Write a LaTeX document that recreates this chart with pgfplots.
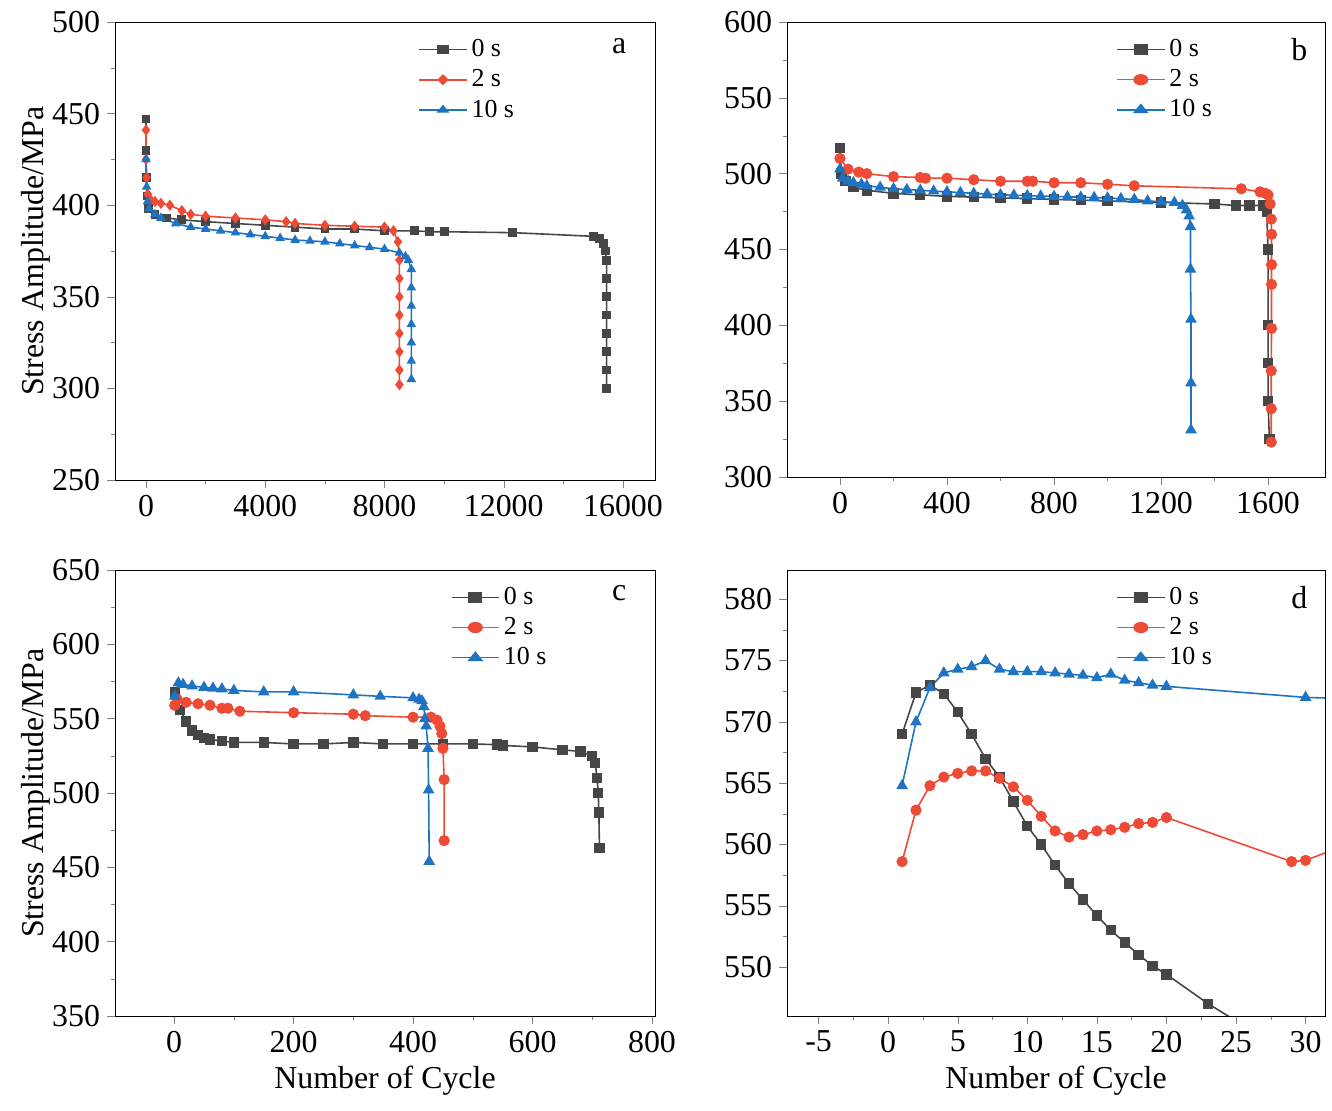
\documentclass[border=0pt]{standalone}
\usepackage{pgfplots}
\pgfplotsset{compat=1.18}
\usepackage{fontspec}
\setmainfont{Liberation Serif}
\definecolor{cg}{RGB}{70,70,70}
\definecolor{cr}{RGB}{238,75,55}
\definecolor{cb}{RGB}{30,115,195}
\pgfplotsset{
 every axis/.style={scale only axis, font=\fontsize{16}{18}\selectfont,
  /pgf/number format/assume math mode=true, /pgf/number format/set thousands separator={},
  tick align=outside, xtick pos=left, ytick pos=left, minor tick num=1,
  major tick length=4pt, minor tick length=2pt,
  legend style={draw=none, fill=none, font=\fontsize{13}{15}\selectfont, row sep=1pt},
  legend cell align=left, legend image post style={xscale=1.4},
  clip=true, scaled x ticks=false},
 g/.style={cg, mark=square*, mark size=2.2pt, line width=0.8pt},
 r/.style={cr, mark=*, mark size=2.4pt, line width=0.8pt},
 b/.style={cb, mark=triangle*, mark size=2.6pt, line width=0.8pt},
}
\begin{document}
\begin{tikzpicture}[x=1bp,y=1bp]
\path (0,0) rectangle (666,555.5);
% a
\begin{axis}[at={(57.5bp,315.5bp)}, width=270bp, height=229bp,
 xmin=-1040, xmax=17073, ymin=250, ymax=500, xtick={0,4000,8000,12000,16000}, ytick={250,300,...,500},
 ylabel={Stress Amplitude/MPa}, ylabel style={yshift=-6pt},
 legend style={at={(0.55,0.98)}, anchor=north west}]
\addplot[g, mark size=1.8pt] coordinates {(0,447)(0,430)(10,415)(30,405)(80,398)(300,395)(700,393)(1200,392)(2000,391)(3000,390)(4000,389)(5000,388)(6000,387)(7000,387)(8000,386)(9000,386)(9500,385.5)(10000,385.5)(12300,385)(15000,383)(15200,382)(15350,379)(15400,375)(15450,370)(15450,360)(15450,350)(15450,340)(15450,330)(15450,320)(15450,310)(15450,300)};
\addplot[r, mark=diamond*, mark size=2.2pt] coordinates {(0,441)(0,425)(20,415)(60,406)(150,403)(300,402)(500,401)(800,400)(1200,397)(1500,395)(2000,394)(3000,393)(4000,392)(4700,391)(5000,390)(6000,389)(7000,388.5)(8000,388)(8300,386)(8450,380)(8500,370)(8500,360)(8500,350)(8500,340)(8500,330)(8500,320)(8500,310)(8500,302)};
\addplot[b, mark size=2pt] coordinates {(0,425)(20,410)(50,402)(100,398)(300,395)(500,393)(1000,390)(1500,388)(2000,387)(2500,386)(3000,385)(3500,384)(4000,383)(4500,382)(5000,381)(5500,380.5)(6000,380)(6500,379)(7000,378)(7500,377)(8000,376)(8500,374)(8700,372)(8800,370)(8900,365)(8900,355)(8900,345)(8900,335)(8900,325)(8900,315)(8900,305)};
\legend{0 s,2 s,10 s}
\node[anchor=north east] at (rel axis cs:0.96,0.98) {a};
\end{axis}
% b
\begin{axis}[at={(393.5bp,317bp)}, width=269bp, height=227.5bp,
 xmin=-198, xmax=1813, ymin=300, ymax=600, xtick={0,400,...,1600}, ytick={300,350,...,600},
 legend style={at={(0.6,0.98)}, anchor=north west}]
\addplot[g] coordinates {(0,517)(5,500)(20,495)(50,491)(100,489)(200,487)(300,486)(400,485)(500,484.5)(600,484)(700,483.5)(800,483)(900,482.5)(1000,482)(1200,481)(1400,480)(1480,479)(1530,479)(1580,479)(1595,475)(1600,450)(1600,400)(1600,375)(1600,350)(1605,325)};
\addplot[r] coordinates {(0,510)(30,503)(70,501)(100,500)(200,498)(300,497.5)(320,497)(400,497)(500,496)(600,495)(700,495)(720,495)(800,494)(900,494)(1000,493)(1100,492)(1500,490)(1570,488)(1590,487)(1600,486)(1608,480)(1612,470)(1613,460)(1613,440)(1613,427)(1613,398)(1612,370)(1612,345)(1612,323)};
\addplot[b] coordinates {(0,503)(10,497)(30,495)(50,494)(80,493)(100,492)(150,491)(200,490)(250,489.5)(300,489)(350,488.5)(400,488)(450,487.5)(500,487)(550,486.5)(600,486)(650,485.8)(700,485.5)(750,485.2)(800,485)(850,484.7)(900,484.5)(950,484.2)(1000,484)(1050,483.5)(1100,483)(1150,482)(1200,481.5)(1250,481)(1280,479)(1295,476)(1305,472)(1310,465)(1310,437)(1312,404)(1312,362)(1312,331)};
\legend{0 s,2 s,10 s}
\node[anchor=north east] at (rel axis cs:0.98,0.98) {b};
\end{axis}
% c
\begin{axis}[at={(57.5bp,47.5bp)}, width=270bp, height=223bp,
 xmin=-99, xmax=805, ymin=350, ymax=650, xtick={0,200,...,800}, ytick={350,400,...,650},
 ylabel={Stress Amplitude/MPa}, xlabel={Number of Cycle}, ylabel style={yshift=-6pt},
 legend style={at={(0.61,0.98)}, anchor=north west}]
\addplot[g] coordinates {(1,568)(10,556)(20,548)(30,542)(40,539)(50,537)(60,536)(80,535)(100,534)(150,534)(200,533)(250,533)(300,534)(350,533)(400,533)(450,533)(500,533)(540,532.5)(550,532)(600,531)(650,529)(680,528)(700,525)(705,520)(708,510)(710,500)(711,487)(712,463)};
\addplot[r] coordinates {(1,559)(5,563)(20,561)(40,560)(60,559)(80,557)(90,557)(110,555)(200,554)(300,553)(320,552)(400,551)(430,551)(440,549)(445,545)(448,540)(450,530)(452,509)(452,468)};
\addplot[b] coordinates {(1,565)(7,574)(15,573)(30,572)(50,571)(65,570.5)(80,570)(100,569)(150,568)(200,568)(300,566)(345,565)(400,564)(410,563)(415,562)(418,558)(420,550)(422,545)(425,530)(426,502)(427,454)};
\legend{0 s,2 s,10 s}
\node[anchor=north east] at (rel axis cs:0.96,0.98) {c};
\end{axis}
% d
\begin{axis}[at={(393.5bp,47.5bp)}, width=269bp, height=223bp,
 xmin=-7.27, xmax=31.4, ymin=546, ymax=582.4, xtick={-5,0,...,30}, ytick={550,555,...,580},
 xlabel={Number of Cycle},
 legend style={at={(0.6,0.98)}, anchor=north west}]
\addplot[g] coordinates {(1,569)(2,572.4)(3,573)(4,572.3)(5,570.8)(6,569)(7,567)(8,565.5)(9,563.5)(10,561.5)(11,560)(12,558.3)(13,556.8)(14,555.5)(15,554.2)(16,553)(17,552)(18,551)(19,550.1)(20,549.4)(23,547)(25,545.6)(27,544)};
\addplot[r] coordinates {(1,558.6)(2,562.8)(3,564.8)(4,565.5)(5,565.8)(6,566)(7,566)(8,565.4)(9,564.7)(10,563.6)(11,562.3)(12,561.1)(13,560.6)(14,560.8)(15,561.1)(16,561.2)(17,561.4)(18,561.7)(19,561.8)(20,562.2)(29,558.6)(30,558.7)(33,560)};
\addplot[b] coordinates {(1,564.8)(2,570)(3,572.8)(4,574)(5,574.3)(6,574.5)(7,575)(8,574.3)(9,574.1)(10,574.1)(11,574.1)(12,574)(13,573.9)(14,573.8)(15,573.6)(16,573.9)(17,573.4)(18,573.2)(19,573)(20,572.9)(30,572)(33,571.9)};
\legend{0 s,2 s,10 s}
\node[anchor=north east] at (rel axis cs:0.98,0.98) {d};
\end{axis}
\end{tikzpicture}
\end{document}
